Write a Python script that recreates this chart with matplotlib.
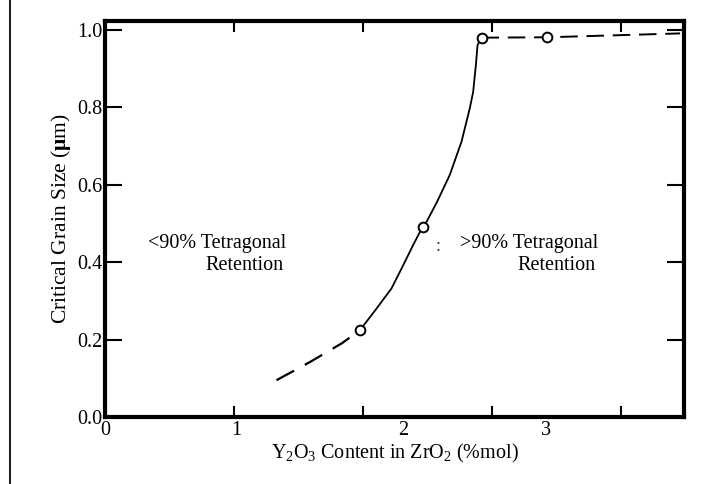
import numpy as np
import matplotlib.pyplot as plt
from matplotlib.patches import Rectangle

plt.rcParams['font.family'] = ['Liberation Serif', 'DejaVu Serif']
plt.rcParams['mathtext.fontset'] = 'custom'
plt.rcParams['mathtext.rm'] = 'Liberation Serif'
plt.rcParams['mathtext.it'] = 'Liberation Serif:italic'
plt.rcParams['mathtext.bf'] = 'Liberation Serif:bold'

# measured points (mol% Y2O3, critical grain size in um)
pts_x = [1.977, 2.463, 2.92, 3.43]
pts_y = [0.224, 0.491, 0.979, 0.98]

# fitted curve through the measured points
curve_x = [1.977, 2.106, 2.222, 2.313, 2.390, 2.463, 2.494, 2.576, 2.674,
           2.765, 2.829, 2.855, 2.876, 2.889, 2.92]
curve_y = [0.224, 0.280, 0.332, 0.392, 0.444, 0.491, 0.504, 0.556, 0.625,
           0.711, 0.797, 0.839, 0.908, 0.960, 0.979]

# extrapolated parts (dashed)
low_x = [1.33, 1.59, 1.84, 1.977]
low_y = [0.095, 0.142, 0.191, 0.224]
high_x = [2.92, 3.43, 4.46]
high_y = [0.979, 0.98, 0.99]

x_tick_marks = [1, 2, 3, 4]
x_label_pos = [0, 1.02, 2.31, 3.42]
x_labels = ['0', '1', '2', '3']
y_ticks = [0.0, 0.2, 0.4, 0.6, 0.8, 1.0]

fig = plt.figure(figsize=(7.21, 4.84), dpi=100)
ax = fig.add_axes([0.1456, 0.1384, 0.8031, 0.8182])

ax.plot(curve_x, curve_y, color='black', lw=1.3, solid_joinstyle='round')
ax.plot(low_x, low_y, color='black', lw=1.6, dashes=(9, 5.5))
ax.plot(high_x, high_y, color='black', lw=1.4, dashes=(9, 4.5))
ax.plot(pts_x, pts_y, 'o', ms=7, mfc='white', mec='black', mew=1.4)

ax.set_xlim(0, 4.49)
ax.set_ylim(0, 1.022)

for s in ax.spines.values():
    s.set_linewidth(3)

ax.set_yticks(y_ticks)
ax.set_yticklabels(['%.1f' % v for v in y_ticks])
ax.tick_params(axis='y', direction='in', length=12, width=1.5,
               left=True, right=True, labelsize=14.5, pad=2)

ax.set_xticks(x_label_pos)
ax.set_xticklabels(x_labels)
ax.tick_params(axis='x', which='major', length=0, pad=3, labelsize=14.5)
ax.set_xticks(x_tick_marks, minor=True)
ax.tick_params(axis='x', which='minor', direction='in', length=8, width=1.5,
               top=True, bottom=True)

ax.set_xlabel('Y$_2$O$_3$ Content in ZrO$_2$ (%mol)', fontsize=14.5, labelpad=1)
ax.set_ylabel(r'Critical Grain Size ($\mathbf{\mu}$m)', fontsize=15.5, labelpad=3)

ax.text(0.33, 0.449, '<90% Tetragonal', fontsize=14.5, va='center', ha='left')
ax.text(0.78, 0.392, 'Retention', fontsize=14.5, va='center', ha='left')
ax.text(2.75, 0.449, '>90% Tetragonal', fontsize=14.5, va='center', ha='left')
ax.text(3.20, 0.392, 'Retention', fontsize=14.5, va='center', ha='left')
ax.text(2.58, 0.44, ':', fontsize=13, va='center', ha='center', color='#333333')

# frame around the whole figure
fig.patches.append(Rectangle((10 / 721, -0.2), 1.2, 1.2 + (1 - 8 / 484),
                             transform=fig.transFigure, fill=False,
                             lw=1.5, edgecolor='#222222', clip_on=False))

fig.savefig('out.png', dpi=100)
